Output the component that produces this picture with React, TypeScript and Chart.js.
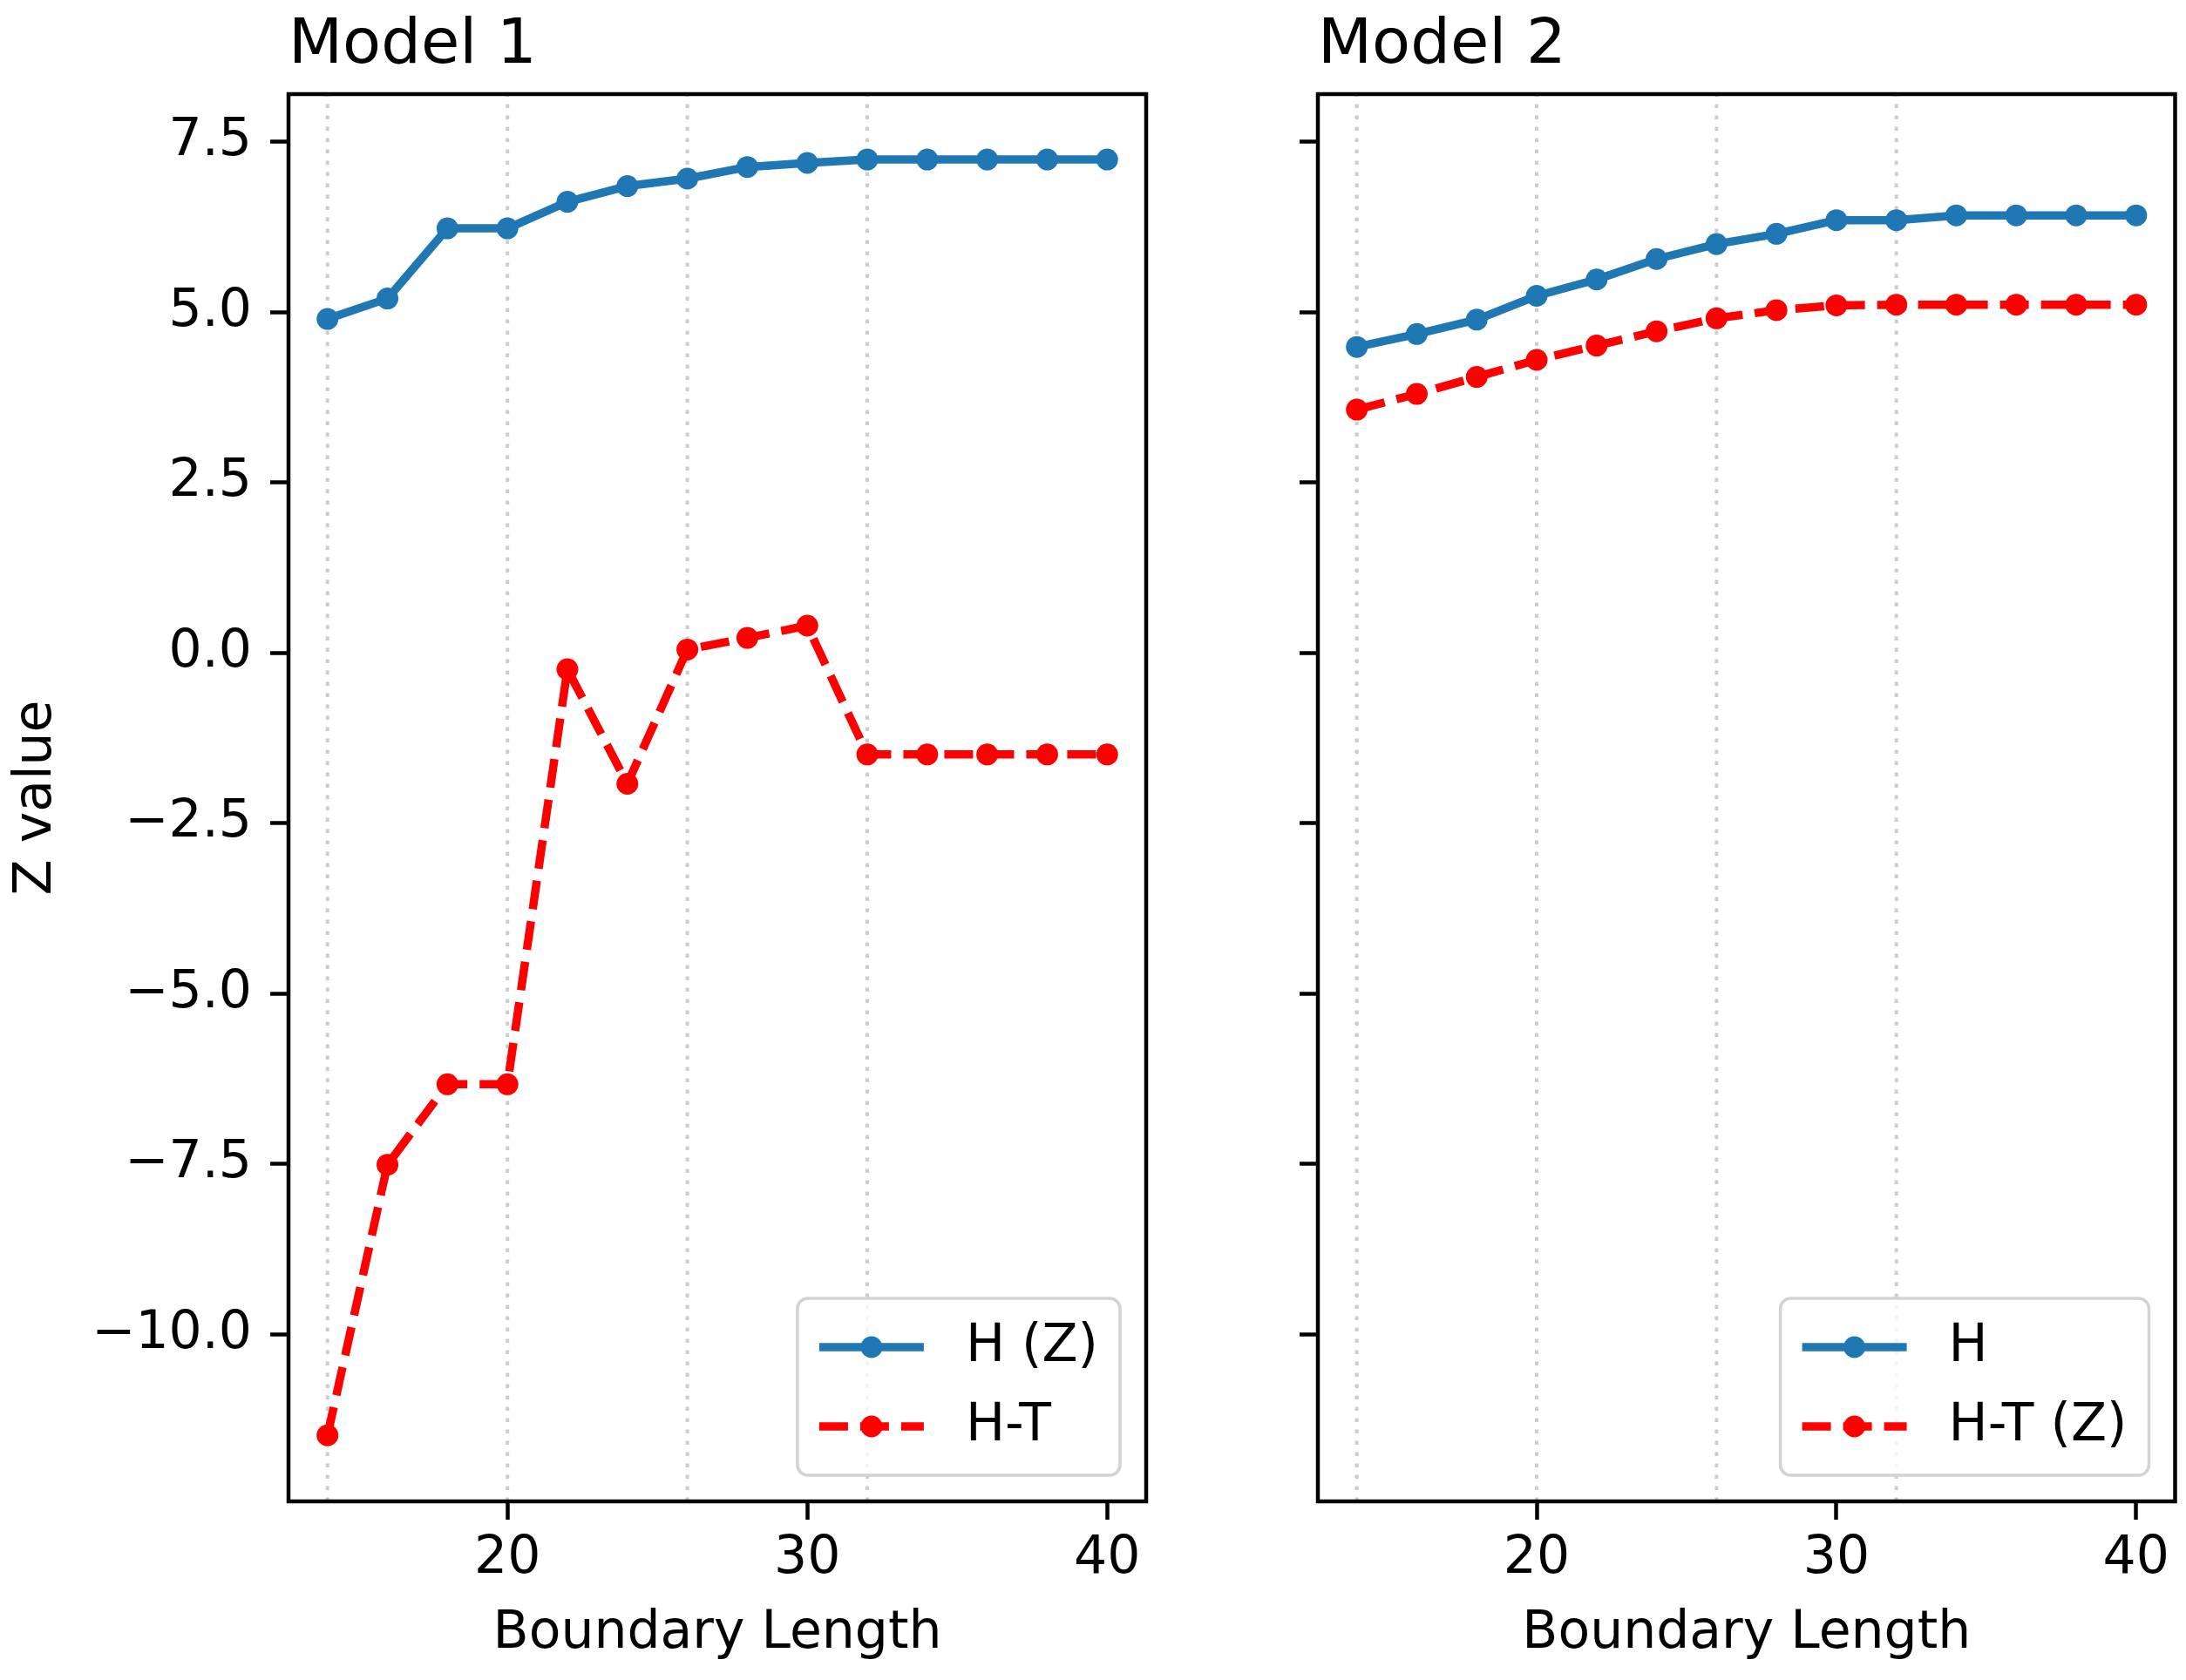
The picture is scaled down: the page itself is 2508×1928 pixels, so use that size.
import React, { useEffect, useRef } from 'react';
import { Chart, registerables } from 'chart.js';

Chart.register(...registerables);

const boundaryLengths = [14, 16, 18, 20, 22, 24, 26, 28, 30, 32, 34, 36, 38, 40];
const model1H = [4.9, 5.2, 6.23, 6.23, 6.62, 6.85, 6.96, 7.13, 7.19, 7.24, 7.24, 7.24, 7.24, 7.24];
const model1HT = [-11.48, -7.51, -6.33, -6.33, -0.24, -1.92, 0.05, 0.22, 0.4, -1.49, -1.49, -1.49, -1.49, -1.49];
const model2H = [4.49, 4.68, 4.89, 5.24, 5.48, 5.78, 6.0, 6.15, 6.35, 6.35, 6.42, 6.42, 6.42, 6.42];
const model2HT = [3.57, 3.8, 4.05, 4.3, 4.51, 4.72, 4.91, 5.03, 5.1, 5.11, 5.11, 5.11, 5.11, 5.11];
const xTicks = [20, 30, 40];
const yTicks = [-10, -7.5, -5, -2.5, 0, 2.5, 5, 7.5];
const gridXs = [14, 20, 26, 32];

const FONT = 'DejaVu Sans';
const BLUE = '#1f77b4';
const RED = '#ff0000';
const LINE_W = 9.5;
const DASH = [33, 14];
const MARKER_R = 12.5;

const fmtY = (v: number) => v.toFixed(1).replace('-', '\u2212');

interface PanelProps {
  title: string;
  labelH: string;
  labelHT: string;
  valuesH: number[];
  valuesHT: number[];
  showYLabels: boolean;
  left: number;
  width: number;
  axisWidth: number;
  rightPad: number;
}

const Panel: React.FC<PanelProps> = ({
  title, labelH, labelHT, valuesH, valuesHT, showYLabels, left, width, axisWidth, rightPad
}) => {
  const canvasRef = useRef<HTMLCanvasElement>(null);
  const chartRef = useRef<Chart | null>(null);

  useEffect(() => {
    if (!canvasRef.current) return;
    if (chartRef.current) chartRef.current.destroy();

    // dotted vertical lines behind the data
    const gridPlugin = {
      id: 'dottedGrid',
      beforeDatasetsDraw(chart: any) {
        const { ctx, chartArea, scales } = chart;
        ctx.save();
        ctx.strokeStyle = '#cdcdcd';
        ctx.lineWidth = 4;
        ctx.setLineDash([4.5, 8.5]);
        gridXs.forEach((v) => {
          const px = scales.x.getPixelForValue(v);
          ctx.beginPath();
          ctx.moveTo(px, chartArea.bottom);
          ctx.lineTo(px, chartArea.top);
          ctx.stroke();
        });
        ctx.restore();
      }
    };

    // spines, title and legend
    const decorPlugin = {
      id: 'decor',
      afterDraw(chart: any) {
        const { ctx, chartArea } = chart;
        ctx.save();
        ctx.strokeStyle = '#000';
        ctx.lineWidth = 4.5;
        ctx.setLineDash([]);
        ctx.strokeRect(chartArea.left, chartArea.top, chartArea.right - chartArea.left, chartArea.bottom - chartArea.top);

        ctx.fillStyle = '#000';
        ctx.font = `72px "${FONT}"`;
        ctx.textAlign = 'left';
        ctx.textBaseline = 'alphabetic';
        ctx.fillText(title, chartArea.left, 72);

        // legend, lower right
        ctx.font = `60px "${FONT}"`;
        const items = chart.data.datasets.map((d: any) => ({
          label: d.label, color: d.borderColor, dash: d.borderDash || []
        }));
        const textW = Math.max(...items.map((it: any) => ctx.measureText(it.label).width));
        const pad = 25, handleLen = 120, textPad = 48, rowH = 62, spacing = 29;
        const boxW = pad + handleLen + textPad + textW + pad;
        const boxH = pad * 2 + rowH * items.length + spacing * (items.length - 1);
        const bx = chartArea.right - 30 - boxW;
        const by = chartArea.bottom - 30 - boxH;
        ctx.beginPath();
        ctx.roundRect(bx, by, boxW, boxH, 12);
        ctx.fillStyle = 'rgba(255,255,255,0.8)';
        ctx.fill();
        ctx.strokeStyle = '#d3d3d3';
        ctx.lineWidth = 3.5;
        ctx.stroke();
        items.forEach((it: any, i: number) => {
          const cy = by + pad + rowH / 2 + i * (rowH + spacing);
          const x0 = bx + pad;
          const x1 = x0 + handleLen;
          ctx.strokeStyle = it.color;
          ctx.lineWidth = LINE_W;
          ctx.lineCap = 'butt';
          ctx.setLineDash(it.dash);
          ctx.beginPath();
          ctx.moveTo(x0, cy);
          ctx.lineTo(x1, cy);
          ctx.stroke();
          ctx.setLineDash([]);
          ctx.fillStyle = it.color;
          ctx.beginPath();
          ctx.arc((x0 + x1) / 2, cy, MARKER_R, 0, Math.PI * 2);
          ctx.fill();
          ctx.fillStyle = '#000';
          ctx.textBaseline = 'middle';
          ctx.fillText(it.label, x1 + textPad, cy);
        });
        ctx.restore();
      }
    };

    const tickFont = { family: FONT, size: 60 };

    chartRef.current = new Chart(canvasRef.current, {
      type: 'line',
      data: {
        datasets: [
          {
            label: labelH,
            data: boundaryLengths.map((x, i) => ({ x, y: valuesH[i] })),
            borderColor: BLUE,
            backgroundColor: BLUE,
            borderWidth: LINE_W,
            borderJoinStyle: 'round',
            pointRadius: MARKER_R,
            pointBackgroundColor: BLUE,
            pointBorderColor: BLUE,
            pointBorderWidth: 0,
            tension: 0,
          },
          {
            label: labelHT,
            data: boundaryLengths.map((x, i) => ({ x, y: valuesHT[i] })),
            borderColor: RED,
            backgroundColor: RED,
            borderWidth: LINE_W,
            borderDash: DASH,
            borderCapStyle: 'butt',
            borderJoinStyle: 'round',
            pointRadius: MARKER_R,
            pointBackgroundColor: RED,
            pointBorderColor: RED,
            pointBorderWidth: 0,
            tension: 0,
          }
        ]
      },
      options: {
        animation: false,
        responsive: false,
        devicePixelRatio: 1,
        layout: { padding: { left: 0, right: rightPad, top: 108, bottom: 0 } },
        plugins: {
          legend: { display: false },
          tooltip: { enabled: false },
          title: { display: false }
        },
        scales: {
          x: {
            type: 'linear',
            min: 12.7,
            max: 41.3,
            afterBuildTicks: (axis: any) => { axis.ticks = xTicks.map((v) => ({ value: v })); },
            afterFit: (axis: any) => { axis.height = 205; },
            ticks: {
              autoSkip: false,
              maxRotation: 0,
              color: '#000',
              font: tickFont,
              padding: 9,
              callback: (v: any) => String(v)
            },
            grid: { drawOnChartArea: false, drawTicks: true, tickLength: 21, tickWidth: 4.5, tickColor: '#000' },
            border: { display: false },
            title: {
              display: true,
              text: 'Boundary Length',
              color: '#000',
              font: tickFont,
              padding: { top: 0, bottom: 17 }
            }
          },
          y: {
            type: 'linear',
            min: -12.45,
            max: 8.2,
            afterBuildTicks: (axis: any) => { axis.ticks = yTicks.map((v) => ({ value: v })); },
            afterFit: (axis: any) => { axis.width = axisWidth; },
            ticks: {
              display: showYLabels,
              autoSkip: false,
              color: '#000',
              font: tickFont,
              padding: 21,
              callback: (v: any) => fmtY(Number(v))
            },
            grid: { drawOnChartArea: false, drawTicks: true, tickLength: 21, tickWidth: 4.5, tickColor: '#000' },
            border: { display: false },
            title: {
              display: showYLabels,
              text: 'Z value',
              color: '#000',
              font: tickFont,
              padding: { top: 6, bottom: 0 }
            }
          }
        }
      } as any,
      plugins: [gridPlugin, decorPlugin]
    });

    return () => {
      if (chartRef.current) {
        chartRef.current.destroy();
        chartRef.current = null;
      }
    };
  }, [title, labelH, labelHT, valuesH, valuesHT, showYLabels, axisWidth, rightPad]);

  return (
    <canvas
      ref={canvasRef}
      width={width}
      height={1928}
      style={{ position: 'absolute', left: `${left}px`, top: 0, width: `${width}px`, height: '1928px' }}
    />
  );
};

const App: React.FC = () => {
  return (
    <div style={{ position: 'absolute', left: 0, top: 0, width: '2508px', height: '1928px', background: '#fff' }}>
      <Panel
        title="Model 1"
        labelH="H (Z)"
        labelHT="H-T"
        valuesH={model1H}
        valuesHT={model1HT}
        showYLabels={true}
        left={0}
        width={1400}
        axisWidth={331}
        rightPad={85}
      />
      <Panel
        title="Model 2"
        labelH="H"
        labelHT="H-T (Z)"
        valuesH={model2H}
        valuesHT={model2HT}
        showYLabels={false}
        left={1400}
        width={1108}
        axisWidth={112}
        rightPad={10}
      />
    </div>
  );
};

export default App;
